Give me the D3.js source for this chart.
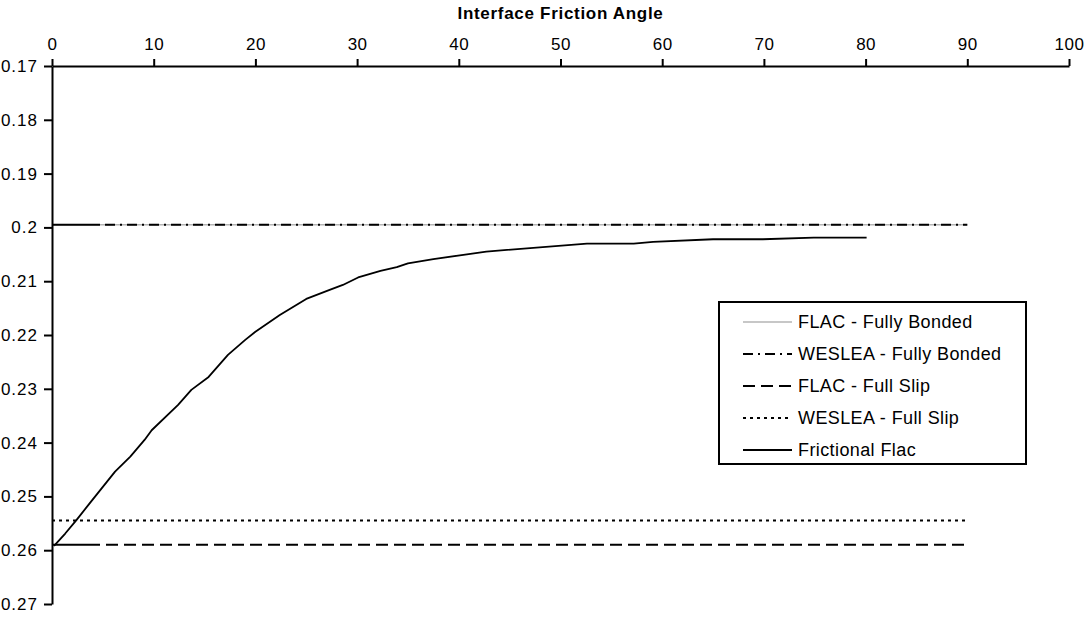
<!DOCTYPE html>
<html>
<head>
<meta charset="utf-8">
<script src="https://cdn.jsdelivr.net/npm/d3@7"></script>
<style>
  html, body { margin: 0; padding: 0; background: #fff; }
  svg { display: block; font-family: "Liberation Sans", Arial, sans-serif; }
</style>
</head>
<body>
<svg id="chart" width="1084" height="619"></svg>
<script>
// Axis ticks
const angleTicks = [0, 10, 20, 30, 40, 50, 60, 70, 80, 90, 100];
const strainTicks = [0.17, 0.18, 0.19, 0.2, 0.21, 0.22, 0.23, 0.24, 0.25, 0.26, 0.27];
const strainTickLabels = ["0.17", "0.18", "0.19", "0.2", "0.21", "0.22", "0.23", "0.24", "0.25", "0.26", "0.27"];

// Reference solutions (constant over the friction angle range)
const refAngles = [0, 90];
const flacFullyBonded = [0.1995, 0.1995];
const wesleaFullyBonded = [0.1995, 0.1995];
const flacFullSlip = [0.2590, 0.2590];
const wesleaFullSlip = [0.2545, 0.2545];

// Frictional interface model
const frictionAngles = [0.2, 1.3, 2.4, 3.7, 6.2, 7.7, 9.1, 9.8, 12.4, 13.7, 15.4, 17.3, 19.0, 20.0,
  22.4, 25.0, 27.3, 28.6, 30.1, 32.3, 33.9, 35.0, 37.5, 40.8, 42.7, 52.6, 57.2, 59.1, 65.0, 69.9, 74.9, 80.1];
const frictionalFlac = [0.2592, 0.2569, 0.2544, 0.2513, 0.2454, 0.2426, 0.2395, 0.2377, 0.2330, 0.2302,
  0.2278, 0.2237, 0.2209, 0.2194, 0.2163, 0.2133, 0.2116, 0.2107, 0.2093, 0.2081, 0.2074, 0.2067, 0.2059,
  0.2050, 0.2045, 0.2030, 0.2030, 0.2027, 0.2022, 0.2022, 0.2019, 0.2019];

const seriesNames = ["FLAC - Fully Bonded", "WESLEA - Fully Bonded", "FLAC - Full Slip", "WESLEA - Full Slip", "Frictional Flac"];

const svg = d3.select("#chart");
const x = d3.scaleLinear().domain([0, 100]).range([52, 1069]);
const y = d3.scaleLinear().domain([0.17, 0.27]).range([66, 604]);

// repeated dash pattern with an optional long leading dash
function dashes(lead, pattern, total) {
  const out = [];
  let len = 0;
  if (lead > 0) { out.push(lead, pattern[pattern.length - 1]); len += lead + pattern[pattern.length - 1]; }
  while (len < total) { pattern.forEach(p => out.push(p)); len += d3.sum(pattern); }
  if (out.length % 2) out.push(0);
  return out.join(" ");
}
const span = x(90) - x(0) + 20;

const styles = [
  { stroke: "#b4b4b4", width: 1.6, dash: null },
  { stroke: "#000", width: 2, dash: dashes(48, [10, 5, 2, 5], span) },
  { stroke: "#000", width: 2, dash: dashes(48, [12, 6], span) },
  { stroke: "#000", width: 2, dash: dashes(0, [3, 4], span) },
  { stroke: "#000", width: 1.8, dash: null }
];

const line = d3.line().x(d => x(d[0])).y(d => y(d[1]));
const series = [
  d3.zip(refAngles, flacFullyBonded),
  d3.zip(refAngles, wesleaFullyBonded),
  d3.zip(refAngles, flacFullSlip),
  d3.zip(refAngles, wesleaFullSlip),
  d3.zip(frictionAngles, frictionalFlac)
];

svg.append("g").selectAll("path").data(series).join("path")
  .attr("d", line)
  .attr("fill", "none")
  .attr("stroke", (d, i) => styles[i].stroke)
  .attr("stroke-width", (d, i) => styles[i].width)
  .attr("stroke-dasharray", (d, i) => styles[i].dash)
  .attr("stroke-linejoin", "round");

// Axes
const xAxis = svg.append("g").attr("transform", `translate(0,${y(0.17)})`)
  .call(d3.axisTop(x).tickValues(angleTicks).tickFormat(d3.format("d")).tickSize(7).tickSizeOuter(0).tickPadding(9));
const yAxis = svg.append("g").attr("transform", `translate(${x(0)},0)`)
  .call(d3.axisLeft(y).tickValues(strainTicks).tickFormat((d, i) => strainTickLabels[i]).tickSize(8).tickSizeOuter(0).tickPadding(6));

[xAxis, yAxis].forEach(g => {
  g.select(".domain").attr("stroke", "#000").attr("stroke-width", 2);
  g.selectAll(".tick line").attr("stroke", "#000").attr("stroke-width", 2);
  g.selectAll(".tick text").attr("fill", "#000").style("font-size", "17px")
    .style("font-family", "'Liberation Sans', Arial, sans-serif");
});
xAxis.selectAll(".tick text").style("letter-spacing", "0.5px");
yAxis.selectAll(".tick text").style("letter-spacing", "1px");

svg.append("text")
  .attr("x", (x(0) + x(100)) / 2).attr("y", 19)
  .attr("text-anchor", "middle")
  .style("font-size", "17px").style("font-weight", "bold").style("letter-spacing", "0.7px")
  .text("Interface Friction Angle");

// Legend
const legend = svg.append("g").attr("transform", "translate(719,302)");
legend.append("rect").attr("width", 307).attr("height", 162)
  .attr("fill", "#fff").attr("stroke", "#000").attr("stroke-width", 2);
const legendDash = [null, "10 5 2 5", "12 6", "3 4", null];
const items = legend.selectAll("g.item").data(seriesNames).join("g")
  .attr("class", "item")
  .attr("transform", (d, i) => `translate(0,${20 + i * 32})`);
items.append("line").attr("x1", 24).attr("x2", 73).attr("y1", 0).attr("y2", 0)
  .attr("stroke", (d, i) => styles[i].stroke)
  .attr("stroke-width", (d, i) => styles[i].width)
  .attr("stroke-dasharray", (d, i) => legendDash[i]);
items.append("text").attr("x", 79).attr("y", 0).attr("dy", "0.35em")
  .style("font-size", "18px").style("letter-spacing", "0.4px").text(d => d);
</script>
</body>
</html>
